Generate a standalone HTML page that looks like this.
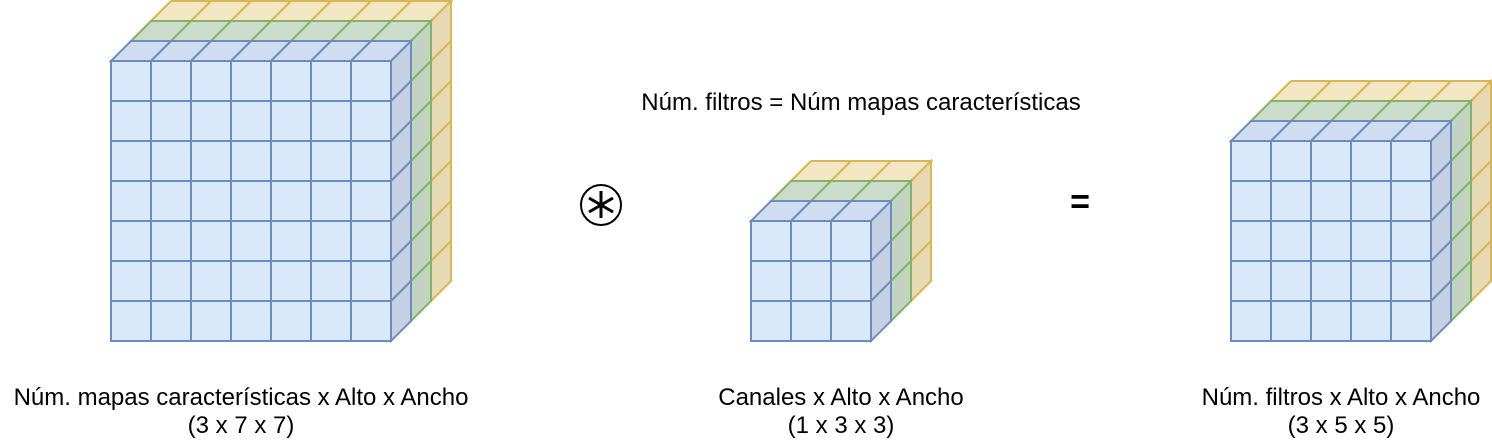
<!DOCTYPE html>
<html><head><meta charset="utf-8"><style>
body{margin:0;background:#fff;width:1492px;height:442px;overflow:hidden;}
svg{display:block;font-family:"Liberation Sans",sans-serif;}
</style></head><body>
<svg id="s" width="1492" height="442" xmlns="http://www.w3.org/2000/svg">
<g id="cubes"></g>
<text x="861" y="110" font-size="24" text-anchor="middle" fill="#000">Núm. filtros = Núm mapas características</text>
<text x="241" y="405" font-size="24" text-anchor="middle">Núm. mapas características x Alto x Ancho</text>
<text x="241" y="433" font-size="24" text-anchor="middle">(3 x 7 x 7)</text>
<text x="841" y="405" font-size="24" text-anchor="middle">Canales x Alto x Ancho</text>
<text x="841" y="433" font-size="24" text-anchor="middle">(1 x 3 x 3)</text>
<text x="1341" y="405" font-size="24" text-anchor="middle">Núm. filtros x Alto x Ancho</text>
<text x="1341" y="433" font-size="24" text-anchor="middle">(3 x 5 x 5)</text>
<text x="1080" y="213" font-size="34" font-weight="bold" text-anchor="middle">=</text>
<circle cx="601" cy="205" r="20" fill="none" stroke="#000" stroke-width="2"/>
<g stroke="#000" stroke-width="3" stroke-linecap="butt">
<line x1="601" y1="191" x2="601" y2="218"/>
<line x1="589" y1="198" x2="613" y2="212"/>
<line x1="589" y1="212" x2="613" y2="198"/>
</g>
</svg>
<script>
var g=document.getElementById('cubes'),NS='http://www.w3.org/2000/svg';
function el(t,a){var e=document.createElementNS(NS,t);for(var k in a)e.setAttribute(k,a[k]);g.appendChild(e);}
function layer(x0,y0,n,f,t,s,st){
 var x1=x0+40*n;
 for(var i=0;i<n;i++)el('polygon',{points:[x0+40*i,y0,x0+40*i+20,y0-20,x0+40*i+60,y0-20,x0+40*i+40,y0].join(' '),fill:t,stroke:st,'stroke-width':2});
 for(var j=0;j<n;j++)el('polygon',{points:[x1,y0+40*j,x1+20,y0+40*j-20,x1+20,y0+40*j+20,x1,y0+40*j+40].join(' '),fill:s,stroke:st,'stroke-width':2});
 for(var i=0;i<n;i++)for(var j=0;j<n;j++)el('rect',{x:x0+40*i,y:y0+40*j,width:40,height:40,fill:f,stroke:st,'stroke-width':2});
}
function cube(x,y,n){
 layer(x+40,y-40,n,'#fff2cc','#f2e6c3','#e6d9b4','#d6b656');
 layer(x+20,y-20,n,'#d5e8d4','#cbdcca','#c2d4c1','#82b366');
 layer(x,y,n,'#dae8fc','#d0dcf0','#c5d0e2','#6c8ebf');
}
cube(111,61,7);cube(751,221,3);cube(1231,141,5);
</script>
</body></html>
